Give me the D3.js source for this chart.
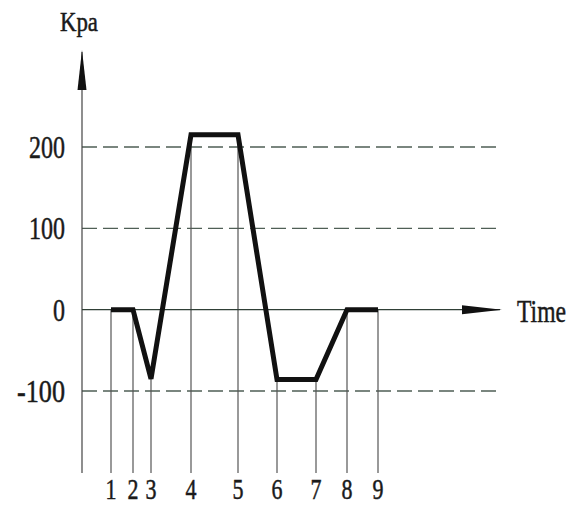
<!DOCTYPE html>
<html>
<head>
<meta charset="utf-8">
<script src="https://cdn.jsdelivr.net/npm/d3@7"></script>
<style>
  html, body { margin: 0; padding: 0; background: #fff; }
  svg { display: block; }
  text { font-family: "Liberation Serif", "DejaVu Serif", serif; fill: #1a1a1a; stroke: #1a1a1a; stroke-width: 0.5px; }
</style>
</head>
<body>
<svg id="chart" width="571" height="506"></svg>
<script>
// ---- data ----
const pointLabels = ["1", "2", "3", "4", "5", "6", "7", "8", "9"];
const timeValues  = [2.9, 5.1, 6.9, 10.9, 15.6, 19.5, 23.4, 26.5, 29.6];
const pressure    = [0, 0, -85, 215, 215, -86, -86, 0, 0];
const yTicks      = [200, 100, 0, -100];
const dashedTicks = [200, 100, -100];
const yAxisTitle  = "Kpa";
const xAxisTitle  = "Time";

// ---- drawing ----
const svg = d3.select("#chart");
const x = d3.scaleLinear().domain([0, 42]).range([82, 502]);
const y = d3.scaleLinear().domain([-100, 200]).range([391, 147]);
const bottomY = 473;
const axisColor = "#444";
const dashColor = "#4f5f56";

// condensed text: draws text at (px, py) with given anchor, squeezed horizontally to width w
function condText(parent, str, px, py, size, w, anchor) {
  const g = parent.append("g");
  const t = g.append("text").attr("x", 0).attr("y", 0)
    .attr("font-size", size).attr("text-anchor", anchor).text(str);
  const natural = t.node().getComputedTextLength();
  const sx = w / natural;
  g.attr("transform", `translate(${px},${py}) scale(${sx},1)`);
  return g;
}

// dashed reference lines
svg.append("g").selectAll("line").data(dashedTicks).join("line")
  .attr("x1", x(0)).attr("x2", x(42))
  .attr("y1", d => y(d)).attr("y2", d => y(d))
  .attr("stroke", dashColor).attr("stroke-width", 1.4)
  .attr("stroke-dasharray", "15,6");

// vertical drop lines from each point
svg.append("g").selectAll("line").data(timeValues).join("line")
  .attr("x1", d => x(d)).attr("x2", d => x(d))
  .attr("y1", (d, i) => y(pressure[i]))
  .attr("y2", bottomY)
  .attr("stroke", "#555").attr("stroke-width", 1.2);

// y axis line + arrow
svg.append("line")
  .attr("x1", x(0)).attr("x2", x(0)).attr("y1", 52).attr("y2", bottomY)
  .attr("stroke", axisColor).attr("stroke-width", 1.2);
svg.append("path")
  .attr("d", `M${x(0)},50 L${x(0) + 4.5},90 L${x(0) - 4.5},90 Z`)
  .attr("fill", "#111");

// x axis line + arrow
svg.append("line")
  .attr("x1", x(0)).attr("x2", x(42) - 2).attr("y1", y(0)).attr("y2", y(0))
  .attr("stroke", "#2f3f36").attr("stroke-width", 1.3);
svg.append("path")
  .attr("d", `M${x(42)},${y(0)} L${x(42) - 40},${y(0) - 4.5} L${x(42) - 40},${y(0) + 4.5} Z`)
  .attr("fill", "#111");

// y tick labels
const yLabelG = svg.append("g");
yTicks.forEach(d => {
  condText(yLabelG, String(d), 65, y(d) + 11, 32, String(d).length * 12, "end");
});

// x point labels
const xLabelG = svg.append("g");
timeValues.forEach((d, i) => {
  condText(xLabelG, pointLabels[i], x(d), 499, 29, 11, "middle");
});

// axis titles
condText(svg, yAxisTitle, 60, 31, 28, 38, "start");
condText(svg, xAxisTitle, 517, 322, 32, 49, "start");

// pressure curve
const line = d3.line()
  .x((d, i) => x(timeValues[i]))
  .y(d => y(d));
svg.append("path")
  .datum(pressure)
  .attr("d", line)
  .attr("fill", "none")
  .attr("stroke", "#111")
  .attr("stroke-width", 5)
  .attr("stroke-linejoin", "miter")
  .attr("stroke-linecap", "butt");
</script>
</body>
</html>
